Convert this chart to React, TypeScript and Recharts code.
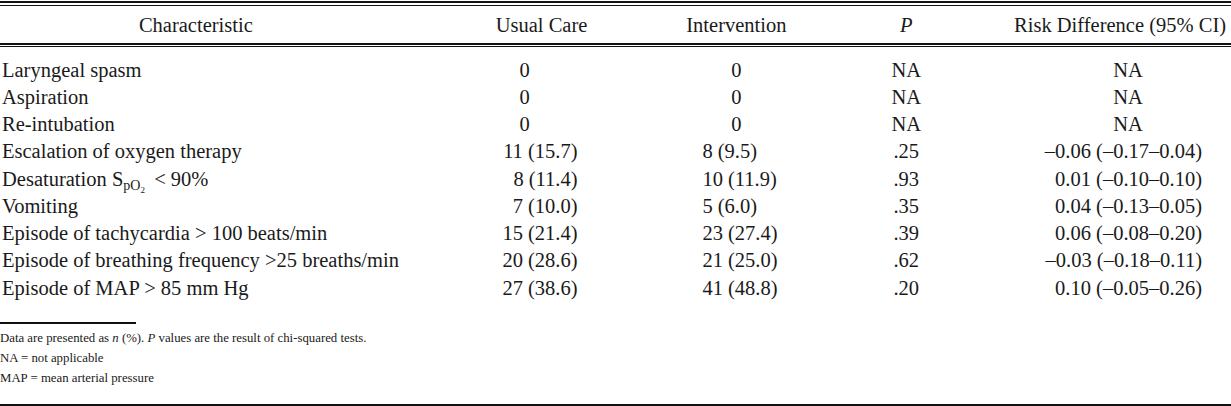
import { ScatterChart, Scatter, XAxis, YAxis } from 'recharts'

// table content
const headers = ['Characteristic', 'Usual Care', 'Intervention', 'P', 'Risk Difference (95% CI)']
const characteristics = [
  'Laryngeal spasm',
  'Aspiration',
  'Re-intubation',
  'Escalation of oxygen therapy',
  'Desaturation SpO2 < 90%',
  'Vomiting',
  'Episode of tachycardia > 100 beats/min',
  'Episode of breathing frequency >25 breaths/min',
  'Episode of MAP > 85 mm Hg',
]
const usualCare = ['0', '0', '0', '11 (15.7)', '8 (11.4)', '7 (10.0)', '15 (21.4)', '20 (28.6)', '27 (38.6)']
const intervention = ['0', '0', '0', '8 (9.5)', '10 (11.9)', '5 (6.0)', '23 (27.4)', '21 (25.0)', '41 (48.8)']
const pValues = ['NA', 'NA', 'NA', '.25', '.93', '.35', '.39', '.62', '.20']
const riskDiff = [
  'NA',
  'NA',
  'NA',
  '–0.06 (–0.17–0.04)',
  '0.01 (–0.10–0.10)',
  '0.04 (–0.13–0.05)',
  '0.06 (–0.08–0.20)',
  '–0.03 (–0.18–0.11)',
  '0.10 (–0.05–0.26)',
]
const footnotes = ['NA = not applicable', 'MAP = mean arterial pressure']

// layout (pixels along the hidden x axis)
const W = 1231
const headerX = [195, 541, 736, 906, 1120]
const columns = [
  { values: usualCare, numX: 577, numAnchor: 'end', plainX: 524 },
  { values: intervention, numX: 702, numAnchor: 'start', plainX: 736 },
  { values: pValues, numX: 906, numAnchor: 'middle', plainX: 906 },
  { values: riskDiff, numX: 1202, numAnchor: 'end', plainX: 1128 },
]

const FONT = '"Liberation Serif", "Times New Roman", serif'
const FS = 20.5
const INK = '#1a1a1a'

const cellData = columns.map((c) =>
  c.values.map((v, i) => {
    const isNum = v.includes('(')
    return {
      row: characteristics[i],
      x: isNum ? c.numX : c.plainX,
      anchor: isNum ? c.numAnchor : 'middle',
      label: v,
    }
  })
)

const HeaderTick = (props: any) => {
  const { index, payload } = props
  const label = headers[index] ?? ''
  return (
    <text
      x={payload.coordinate}
      y={25}
      dy="0.35em"
      textAnchor="middle"
      fontFamily={FONT}
      fontSize={FS}
      fontStyle={label === 'P' ? 'italic' : 'normal'}
      fill={INK}
    >
      {label}
    </text>
  )
}

const RowTick = (props: any) => {
  const { y, payload } = props
  const label: string = payload.value
  if (label.includes('SpO2')) {
    const [before, after] = label.split('SpO2')
    return (
      <text x={2} y={y} dy="0.35em" fontFamily={FONT} fontSize={FS} fill={INK}>
        {before}S
        <tspan fontSize={14} dy={4}>pO</tspan>
        <tspan fontSize={9} dy={3}>2</tspan>
        <tspan fontSize={FS} dy={-7}>{'\u2009' + after}</tspan>
      </text>
    )
  }
  return (
    <text x={2} y={y} dy="0.35em" fontFamily={FONT} fontSize={FS} fill={INK}>
      {label}
    </text>
  )
}

const Cell = (props: any) => {
  const { cx, cy, payload } = props
  return (
    <text x={cx} y={cy} dy="0.35em" textAnchor={payload.anchor} fontFamily={FONT} fontSize={FS} fill={INK}>
      {payload.label}
    </text>
  )
}

const rule = (top: number, h: number, width: number | string = '100%') => (
  <div style={{ position: 'absolute', left: 0, top, width, height: h, background: '#111' }} />
)

export default function App() {
  return (
    <div style={{ position: 'absolute', left: 0, top: 0, width: W, height: 406, background: '#fff', overflow: 'hidden' }}>
      {rule(1, 2)}
      {rule(5, 1.2)}
      {rule(43, 1.6)}
      {rule(45.6, 1)}
      <div style={{ position: 'absolute', left: 0, top: 0 }}>
        <ScatterChart width={W} height={301} margin={{ top: 26, right: 0, bottom: 0, left: 0 }}>
          <XAxis
            type="number"
            dataKey="x"
            orientation="top"
            domain={[0, W]}
            ticks={headerX}
            axisLine={false}
            tickLine={false}
            tick={<HeaderTick />}
            height={30}
            interval={0}
          />
          <YAxis
            type="category"
            dataKey="row"
            ticks={characteristics}
            allowDuplicatedCategory={false}
            reversed
            width={1}
            axisLine={false}
            tickLine={false}
            tick={<RowTick />}
            interval={0}
          />
          {cellData.map((d, i) => (
            <Scatter key={i} data={d} shape={<Cell />} isAnimationActive={false} />
          ))}
        </ScatterChart>
      </div>
      {rule(322, 1.5, 136)}
      <div
        style={{
          position: 'absolute',
          left: 0,
          top: 328,
          fontFamily: FONT,
          fontSize: 12.8,
          lineHeight: '20px',
          color: INK,
          whiteSpace: 'nowrap',
        }}
      >
        <div>
          Data are presented as <i>n</i> (%). <i>P</i> values are the result of chi-squared tests.
        </div>
        {footnotes.map((f) => (
          <div key={f}>{f}</div>
        ))}
      </div>
      {rule(404, 2)}
    </div>
  )
}
